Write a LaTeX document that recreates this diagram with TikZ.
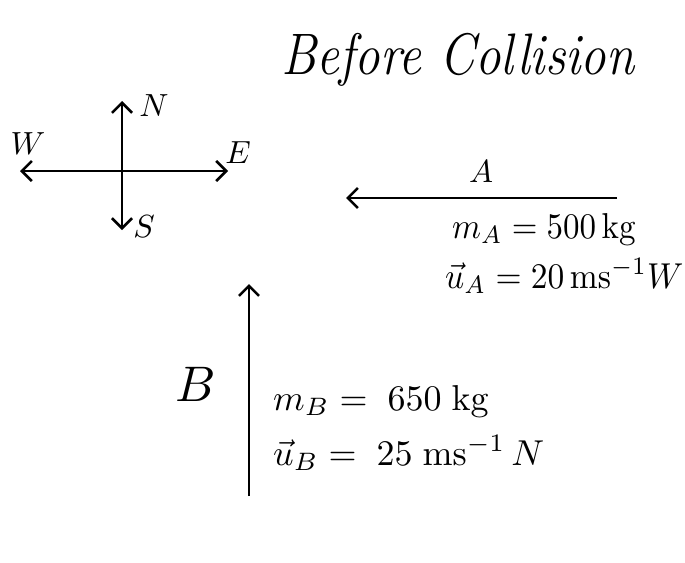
\documentclass[tikz,border=0pt]{standalone}
\usetikzlibrary{arrows.meta}
\begin{document}
\begin{tikzpicture}[x=1pt,y=-1pt,
  vec/.style={line width=2.6pt,-{Straight Barb[length=10pt,width=20pt,line width=2.6pt]}},
  lbl/.style={inner sep=0pt},
  eq/.style={inner sep=0pt,anchor=base west}]
\useasboundingbox (0,0) rectangle (685,562);
% title
\node[inner sep=0pt,anchor=base,font=\fontsize{48}{56}\selectfont\itshape] (title) at (458,74) {\scalebox{1.06}[1.22]{Before Collision}};
% compass
\coordinate (c) at (122,171);
\coordinate (cn) at (122,101);
\coordinate (cs) at (122,230);
\coordinate (cw) at (20,171);
\coordinate (ce) at (228,171);
\draw[vec] (c) -- (cn);
\draw[vec] (c) -- (cs);
\draw[vec] (c) -- (cw);
\draw[vec] (c) -- (ce);
\node[lbl] (N) at (154,106) {\scalebox{3.2}{$N$}};
\node[lbl] (S) at (144,227) {\scalebox{3.2}{$S$}};
\node[lbl] (W) at (28,144) {\scalebox{3.2}{$W$}};
\node[lbl] (E) at (238,153) {\scalebox{3.2}{$E$}};
% body A
\coordinate (a1) at (617,198);
\coordinate (a2) at (346,198);
\draw[vec] (a1) -- (a2);
\node[lbl] (A) at (481,172) {\scalebox{3.2}{$A$}};
\node[eq] (mA) at (452,238) {\scalebox{3.3}[3.6]{$m_A = 500\,\mathrm{kg}$}};
\node[eq] (uA) at (445,288) {\scalebox{3.35}[3.6]{$\vec{u}_A = 20\,\mathrm{ms^{-1}}W$}};
% body B
\coordinate (b1) at (249,496);
\coordinate (b2) at (249,284);
\draw[vec] (b1) -- (b2);
\node[lbl] (B) at (196,384) {\scalebox{5}{$B$}};
\node[eq] (mB) at (273,410) {\scalebox{3.6}[3.6]{$m_B = \;650\;\mathrm{kg}$}};
\node[eq] (uB) at (273,465) {\scalebox{3.6}[3.6]{$\vec{u}_B = \;25\;\mathrm{ms^{-1}}\,N$}};
\end{tikzpicture}
\end{document}
